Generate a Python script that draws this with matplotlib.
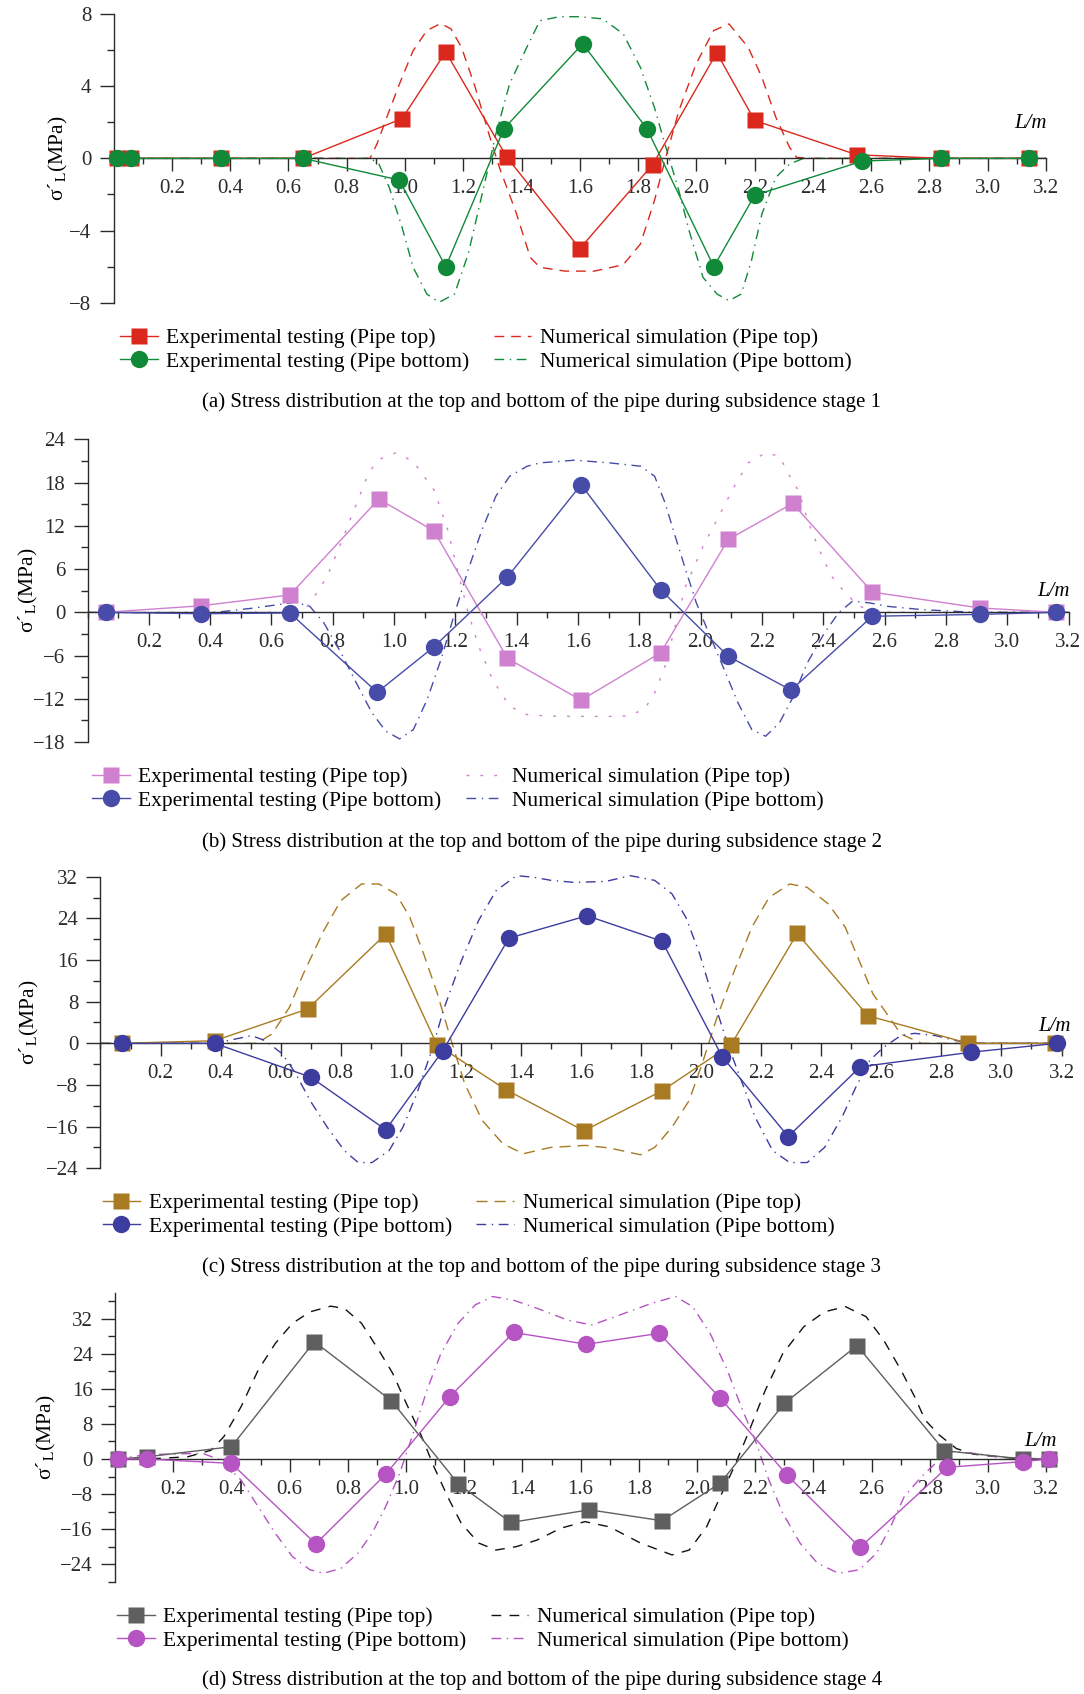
import matplotlib
matplotlib.use('Agg')
import matplotlib.pyplot as plt
import numpy as np
from matplotlib.ticker import MultipleLocator, FixedLocator, FormatStrFormatter
from matplotlib.lines import Line2D

plt.rcParams['font.family'] = ['Liberation Serif', 'DejaVu Serif']
plt.rcParams['mathtext.fontset'] = 'stix'

# ---------------- data ----------------
# (a) subsidence stage 1
a_exp_x_top = [0.01, 0.06, 0.37, 0.65, 0.99, 1.14, 1.35, 1.60, 1.85, 2.07, 2.20, 2.55, 2.84, 3.14]
a_exp_y_top = [0, 0, 0, 0, 2.2, 5.9, 0.05, -5.0, -0.35, 5.85, 2.1, 0.2, 0, 0]
a_exp_x_bot = [0.01, 0.06, 0.37, 0.65, 0.98, 1.14, 1.34, 1.61, 1.83, 2.06, 2.20, 2.57, 2.84, 3.14]
a_exp_y_bot = [0, 0, 0, 0, -1.2, -6.0, 1.65, 6.35, 1.65, -6.0, -2.05, -0.15, 0, 0]
a_sim_x_top = [0, 0.88, 0.904, 0.946, 0.981, 1.028, 1.075, 1.123, 1.158, 1.194, 1.241, 1.288,
               1.324, 1.383, 1.430, 1.463, 1.55, 1.65, 1.749, 1.808, 1.856, 1.892, 1.94, 1.999,
               2.059, 2.112, 2.178, 2.225, 2.273, 2.32, 2.344, 2.40, 3.2]
a_sim_y_top = [0, 0, 0.8, 2.64, 4.12, 5.97, 7.08, 7.48, 7.17, 6.15, 3.94, 1.35,
               -0.5, -3.08, -5.49, -6.04, -6.25, -6.25, -5.9, -4.75, -2.35, -0.13, 2.64, 5.23,
               7.08, 7.45, 6.15, 4.49, 2.27, 0.61, 0.05, 0, 0]
a_sim_x_bot = [0, 0.88, 0.91, 0.946, 0.99, 1.028, 1.075, 1.117, 1.17, 1.217, 1.265, 1.312, 1.359,
               1.418, 1.463, 1.53, 1.60, 1.678, 1.749, 1.808, 1.856, 1.892, 1.94, 1.975, 2.023,
               2.071, 2.112, 2.154, 2.189, 2.225, 2.273, 2.32, 2.368, 3.2]
a_sim_y_bot = [0, 0, -0.3, -1.61, -3.82, -6.04, -7.52, -7.98, -7.52, -5.3, -1.97, 1.35, 4.12,
               6.15, 7.63, 7.85, 7.85, 7.73, 6.9, 5.04, 2.83, 0.8, -1.79, -4.0, -6.6,
               -7.52, -7.89, -7.52, -5.67, -3.08, -1.05, -0.31, 0, 0]

# (b) subsidence stage 2
b_exp_x_top = [0.06, 0.37, 0.66, 0.95, 1.13, 1.37, 1.61, 1.87, 2.09, 2.30, 2.56, 2.91, 3.16]
b_exp_y_top = [0, 0.9, 2.4, 15.7, 11.3, -6.4, -12.2, -5.6, 10.1, 15.1, 2.8, 0.6, 0]
b_exp_x_bot = [0.06, 0.37, 0.66, 0.945, 1.13, 1.37, 1.61, 1.87, 2.09, 2.295, 2.56, 2.91, 3.16]
b_exp_y_bot = [0, -0.2, -0.1, -11.1, -4.8, 4.9, 17.7, 3.1, -6.1, -10.8, -0.55, -0.3, 0]
b_sim_x_top = [0, 0.703, 0.748, 0.782, 0.827, 0.883, 0.917, 0.95, 1.006, 1.062, 1.13, 1.175,
               1.209, 1.242, 1.276, 1.321, 1.377, 1.434, 1.50, 1.60, 1.70, 1.759, 1.816, 1.85,
               1.884, 1.917, 1.951, 2.008, 2.065, 2.11, 2.155, 2.212, 2.257, 2.291, 2.32, 2.348,
               2.382, 2.427, 2.472, 2.517, 2.585, 3.2]
b_sim_y_top = [0, 0, 2.69, 5.0, 9.63, 15.64, 19.34, 21.19, 22.12, 20.96, 17.0, 11.47,
               5.47, -0.09, -4.7, -9.34, -13.04, -14.2, -14.4, -14.45, -14.45, -14.4, -13.5, -11.2,
               -7.5, -1.94, 3.6, 9.16, 13.79, 17.48, 20.73, 22.12, 21.65, 18.87, 16.8, 12.9,
               9.16, 5.0, 2.69, 0.83, 0, 0]
b_sim_x_bot = [0, 0.40, 0.545, 0.677, 0.725, 0.771, 0.827, 0.883, 0.928, 0.973, 1.018, 1.063,
               1.108, 1.153, 1.198, 1.242, 1.287, 1.332, 1.377, 1.434, 1.476, 1.589, 1.703, 1.805,
               1.85, 1.884, 1.917, 1.951, 1.986, 2.031, 2.077, 2.122, 2.167, 2.212, 2.257, 2.303,
               2.348, 2.404, 2.45, 2.495, 2.551, 2.608, 2.721, 2.891, 3.2]
b_sim_y_bot = [0, -0.1, 0.6, 1.39, 0.83, -1.47, -5.64, -10.3, -13.96, -16.5, -17.57, -16.28,
               -12.1, -6.56, -0.1, 5.92, 11.47, 16.1, 18.87, 20.26, 20.73, 21.1, 20.73, 20.26,
               18.87, 15.18, 10.55, 5.92, 1.3, -3.33, -7.95, -12.57, -16.28, -17.2, -15.35, -11.66,
               -7.02, -2.86, -0.08, 1.53, 1.3, 0.83, 0.37, 0, 0]

# (c) subsidence stage 3
c_exp_x_top = [0.07, 0.38, 0.69, 0.95, 1.12, 1.35, 1.61, 1.87, 2.10, 2.32, 2.555, 2.89, 3.18]
c_exp_y_top = [0, 0.5, 6.6, 21.0, -0.25, -8.9, -16.8, -9.1, -0.25, 21.1, 5.3, 0, 0]
c_exp_x_bot = [0.07, 0.38, 0.70, 0.95, 1.14, 1.36, 1.62, 1.87, 2.07, 2.29, 2.53, 2.90, 3.185]
c_exp_y_bot = [0, 0, -6.5, -16.6, -1.4, 20.2, 24.5, 19.6, -2.55, -17.9, -4.5, -1.7, 0]
c_sim_x_top = [0, 0.52, 0.571, 0.629, 0.675, 0.743, 0.80, 0.869, 0.927, 0.984, 1.03, 1.076,
               1.122, 1.168, 1.213, 1.271, 1.34, 1.408, 1.498, 1.614, 1.695, 1.798, 1.845, 1.903,
               1.96, 2.007, 2.053, 2.111, 2.169, 2.226, 2.295, 2.353, 2.423, 2.48, 2.526, 2.572,
               2.619, 2.665, 2.734, 3.2]
c_sim_y_top = [0, 0, 1.8, 6.9, 13.3, 21.6, 27.4, 30.6, 30.6, 28.7, 24.2, 17.2,
               9.5, 0.5, -7.8, -14.8, -19.3, -21.2, -20.0, -19.6, -20.1, -21.4, -20.0, -16.1,
               -11.0, -3.3, 5.0, 14.0, 22.3, 28.0, 30.6, 29.96, 26.8, 22.3, 15.9, 9.5,
               5.65, 1.8, 0, 0]
c_sim_x_bot = [0, 0.38, 0.422, 0.503, 0.549, 0.606, 0.651, 0.698, 0.755, 0.812, 0.858, 0.904,
               0.961, 1.007, 1.053, 1.099, 1.145, 1.202, 1.259, 1.317, 1.385, 1.442, 1.50, 1.579,
               1.683, 1.764, 1.845, 1.903, 1.949, 1.995, 2.042, 2.088, 2.134, 2.18, 2.238, 2.295,
               2.353, 2.411, 2.469, 2.515, 2.561, 2.607, 2.665, 2.711, 2.781, 2.85, 2.919, 3.2]
c_sim_y_bot = [0, 0, 0.5, 1.48, 0.5, -2.04, -5.9, -11.0, -16.1, -20.6, -22.9, -22.9,
               -20.6, -16.1, -9.7, -2.04, 6.9, 15.9, 23.6, 29.3, 32.2, 31.9, 31.3, 30.9,
               31.1, 32.2, 31.3, 28.7, 24.2, 17.2, 8.2, -0.1, -7.2, -14.2, -20.6, -22.9,
               -22.9, -20.0, -14.2, -8.45, -3.3, -0.77, 1.48, 1.92, 1.48, 0.5, 0, 0]

# (d) subsidence stage 4
d_exp_x_top = [0.01, 0.11, 0.40, 0.685, 0.95, 1.18, 1.36, 1.63, 1.88, 2.08, 2.30, 2.55, 2.85, 3.12, 3.21]
d_exp_y_top = [0, 0.5, 2.8, 26.8, 13.3, -5.7, -14.5, -11.6, -14.1, -5.5, 12.7, 25.9, 1.9, 0, 0]
d_exp_x_bot = [0.01, 0.11, 0.40, 0.69, 0.93, 1.15, 1.37, 1.62, 1.87, 2.08, 2.31, 2.56, 2.86, 3.12, 3.21]
d_exp_y_bot = [0, 0, -1.0, -19.4, -3.5, 14.2, 28.9, 26.2, 28.7, 13.9, -3.7, -20.2, -1.9, -0.6, 0]
d_sim_x_top = [0, 0.11, 0.25, 0.33, 0.374, 0.433, 0.492, 0.551, 0.61, 0.67, 0.741, 0.788,
               0.847, 0.906, 0.954, 1.001, 1.049, 1.096, 1.143, 1.19, 1.25, 1.309, 1.38, 1.451,
               1.532, 1.615, 1.699, 1.806, 1.914, 1.973, 2.033, 2.08, 2.128, 2.176, 2.235, 2.295,
               2.367, 2.438, 2.51, 2.581, 2.641, 2.701, 2.748, 2.784, 2.832, 2.891, 2.951, 3.046,
               3.12, 3.2]
d_sim_y_top = [0, 0, 0.5, 2.0, 5.1, 11.9, 20.3, 26.4, 31.0, 33.6, 34.9, 34.4,
               31.0, 24.9, 19.6, 12.7, 5.9, -1.76, -8.6, -14.7, -19.2, -20.8, -20.0, -18.5,
               -15.8, -14.3, -15.5, -19.2, -21.9, -20.8, -15.5, -8.6, -1.76, 5.9, 15.75, 24.1,
               30.2, 33.6, 34.8, 32.5, 27.2, 20.3, 14.2, 8.9, 5.5, 2.4, 1.1, 0.4,
               0, 0]
d_sim_x_bot = [0, 0.11, 0.30, 0.362, 0.433, 0.492, 0.551, 0.61, 0.67, 0.717, 0.776, 0.835,
               0.883, 0.93, 0.978, 1.025, 1.072, 1.12, 1.179, 1.238, 1.297, 1.368, 1.451, 1.556,
               1.639, 1.735, 1.842, 1.926, 1.985, 2.045, 2.104, 2.152, 2.2, 2.247, 2.295, 2.354,
               2.414, 2.486, 2.558, 2.617, 2.665, 2.712, 2.772, 2.832, 2.879, 2.951, 3.046, 3.2]
d_sim_y_bot = [0, 1.0, 1.3, -0.2, -4.8, -10.9, -17.0, -22.3, -25.3, -26.1, -25.0, -21.5,
               -17.0, -10.9, -3.3, 5.9, 15.75, 24.1, 31.0, 35.2, 37.1, 36.3, 34.4, 31.7,
               30.6, 32.9, 35.5, 37.1, 34.8, 28.7, 20.3, 11.9, 4.3, -4.8, -12.4, -19.2,
               -23.8, -26.1, -25.3, -21.5, -15.5, -8.6, -4.0, -0.2, 1.67, 1.3, 0.4, 0]

labels = ['Experimental testing (Pipe top)', 'Experimental testing (Pipe bottom)',
          'Numerical simulation (Pipe top)', 'Numerical simulation (Pipe bottom)']
captions = [
    '(a) Stress distribution at the top and bottom of the pipe during subsidence stage 1',
    '(b) Stress distribution at the top and bottom of the pipe during subsidence stage 2',
    '(c) Stress distribution at the top and bottom of the pipe during subsidence stage 3',
    '(d) Stress distribution at the top and bottom of the pipe during subsidence stage 4',
]

W, H = 1084, 1694
fig = plt.figure(figsize=(W / 100, H / 100), dpi=100)
FS = 15.5


def draw_panel(box, ylim, ymajor, yminor, exp, sim, colors, sim_colors, dashes,
               label_dx, lm_offset, legend_xy, caption, caption_y):
    """Draws one stress panel. box is (left, right, top, bottom) in figure pixels."""
    left, right, top, bottom = box
    ax = fig.add_axes([left / W, 1 - bottom / H, (right - left) / W, (bottom - top) / H])
    ax.patch.set_alpha(0)
    for s in ['top', 'right']:
        ax.spines[s].set_visible(False)
    ax.spines['bottom'].set_position(('data', 0))
    for s in ['left', 'bottom']:
        ax.spines[s].set_color('#2b2b2b')
        ax.spines[s].set_linewidth(1.0)

    ax.set_xlim(0, 3.2)
    ax.set_ylim(*ylim)
    ax.xaxis.set_major_locator(FixedLocator(np.round(np.arange(0.2, 3.21, 0.2), 1)))
    ax.xaxis.set_minor_locator(MultipleLocator(0.1))
    ax.xaxis.set_major_formatter(FormatStrFormatter('%.1f'))
    ax.yaxis.set_major_locator(MultipleLocator(ymajor))
    ax.yaxis.set_minor_locator(MultipleLocator(yminor))
    ax.tick_params(which='both', colors='#2b2b2b', width=1.0, labelsize=FS - 0.5)
    ax.tick_params(axis='x', which='major', length=9, pad=6)
    ax.tick_params(axis='x', which='minor', length=4.5)
    ax.tick_params(axis='y', which='major', length=10, pad=6)
    ax.tick_params(axis='y', which='minor', length=5)

    xt, yt, xb, yb = exp
    sxt, syt, sxb, syb = sim
    ax.plot(sxt, syt, color=sim_colors[0], lw=1.0, dashes=dashes[0], zorder=2, clip_on=False)
    ax.plot(sxb, syb, color=sim_colors[1], lw=1.0, dashes=dashes[1], zorder=2, clip_on=False)
    ax.plot(xt, yt, color=colors[0], lw=1.0, marker='s', ms=11.5, mec='none',
            zorder=4, clip_on=False)
    ax.plot(xb, yb, color=colors[1], lw=1.0, marker='o', ms=12.5, mec='none',
            zorder=5, clip_on=False)

    # upright sigma with an acute-style prime, subscript L
    ax.set_ylabel('σ´$_{\\mathrm{L}}$(MPa)', fontsize=FS)
    ax.yaxis.set_label_coords(-label_dx / (right - left), 0.5)
    ax.annotate('L/m', xy=(3.2, 0), xytext=lm_offset, textcoords='offset pixels',
                ha='center', va='center', fontsize=FS - 0.5, style='italic')

    handles = [
        Line2D([], [], color=colors[0], lw=1.0, marker='s', ms=11.5, mec='none'),
        Line2D([], [], color=colors[1], lw=1.0, marker='o', ms=12.5, mec='none'),
        Line2D([], [], color=sim_colors[0], lw=1.0, dashes=dashes[0]),
        Line2D([], [], color=sim_colors[1], lw=1.0, dashes=dashes[1]),
    ]
    fig.legend(handles, labels, loc='upper left',
               bbox_to_anchor=(legend_xy[0] / W, 1 - legend_xy[1] / H),
               ncol=2, frameon=False, fontsize=FS, handlelength=1.75,
               handletextpad=0.4, columnspacing=1.12, labelspacing=0.16,
               borderpad=0, borderaxespad=0)
    fig.text(0.5, 1 - caption_y / H, caption, ha='center', va='center', fontsize=FS - 0.5)
    return ax


draw_panel((113.6, 1046, 14, 302.7), (-8, 8), 4, 2,
           (a_exp_x_top, a_exp_y_top, a_exp_x_bot, a_exp_y_bot),
           (a_sim_x_top, a_sim_y_top, a_sim_x_bot, a_sim_y_bot),
           ('#DA291C', '#108A38'), ('#DA291C', '#108A38'),
           ((7, 5), (7, 4, 1, 4)), 44, (-15, 35), (120, 328), captions[0], 402)

draw_panel((87.5, 1068.5, 439.3, 742), (-18, 24), 6, 3,
           (b_exp_x_top, b_exp_y_top, b_exp_x_bot, b_exp_y_bot),
           (b_sim_x_top, b_sim_y_top, b_sim_x_bot, b_sim_y_bot),
           ('#CF80CF', '#464CA8'), ('#CF80CF', '#464CA8'),
           ((2, 8), (7, 4, 1, 4)), 47, (-15, 21), (92, 767), captions[1], 842)

draw_panel((100.5, 1061.5, 876.7, 1168.3), (-24, 32), 8, 4,
           (c_exp_x_top, c_exp_y_top, c_exp_x_bot, c_exp_y_bot),
           (c_sim_x_top, c_sim_y_top, c_sim_x_bot, c_sim_y_bot),
           ('#A87B22', '#3D3DA0'), ('#A87B22', '#3D3DA0'),
           ((8, 5), (7, 4, 1, 4)), 59, (-7, 17), (102.6, 1193), captions[2], 1267.5)

draw_panel((115, 1046.2, 1292.6, 1581.6), (-28, 38), 8, 4,
           (d_exp_x_top, d_exp_y_top, d_exp_x_bot, d_exp_y_bot),
           (d_sim_x_top, d_sim_y_top, d_sim_x_bot, d_sim_y_bot),
           ('#5F5F5F', '#B554C2'), ('#111111', '#B554C2'),
           ((7, 6), (7, 4, 1, 4)), 57, (-6, 17), (117, 1607), captions[3], 1680)

plt.savefig('out.png', dpi=100)
